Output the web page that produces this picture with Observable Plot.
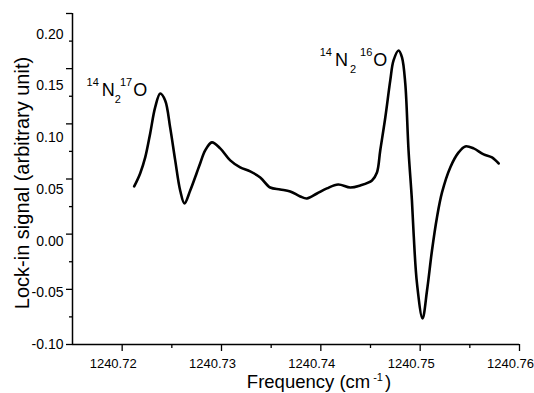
<!DOCTYPE html>
<html><head><meta charset="utf-8">
<script src="https://cdn.jsdelivr.net/npm/d3@7"></script>
<script src="https://cdn.jsdelivr.net/npm/@observablehq/plot@0.6"></script>
<style>body{margin:0;background:#fff} svg{display:block}</style>
</head><body><div id="chart"></div>
<script>
const freq = [1240.72121, 1240.72181, 1240.72232, 1240.72282, 1240.72332, 1240.72383, 1240.72433, 1240.72483, 1240.72534, 1240.72584,
  1240.72627, 1240.72685, 1240.72752, 1240.72785, 1240.72836, 1240.72903, 1240.72987, 1240.73088, 1240.73188, 1240.73289,
  1240.7339, 1240.7349, 1240.73591, 1240.73692, 1240.73793, 1240.7386, 1240.73961, 1240.74061, 1240.74175, 1240.74296,
  1240.74397, 1240.74515, 1240.74565, 1240.74598, 1240.74649, 1240.74699, 1240.74732, 1240.74783, 1240.74817, 1240.7485,
  1240.74883, 1240.74917, 1240.74934, 1240.74968, 1240.75024, 1240.75069, 1240.75119, 1240.75169, 1240.7522, 1240.75303,
  1240.75387, 1240.75454, 1240.75538, 1240.75639, 1240.75723, 1240.7579];
const signal = [0.0528, 0.0654, 0.0809, 0.1041, 0.1292, 0.1427, 0.136, 0.1099, 0.078, 0.0489,
  0.0364, 0.0489, 0.0663, 0.075, 0.0876, 0.0954, 0.0896, 0.078, 0.0712, 0.0673,
  0.0615, 0.0518, 0.0499, 0.048, 0.0431, 0.0412, 0.046, 0.0509, 0.0547, 0.0518,
  0.0538, 0.0586, 0.0663, 0.0876, 0.1195, 0.1553, 0.1747, 0.1843, 0.1776, 0.1524,
  0.0876, 0.0393, 0.0073, -0.041, -0.0749, -0.0478, -0.0091, 0.0228, 0.047, 0.0712,
  0.0857, 0.0915, 0.0896, 0.0838, 0.0809, 0.075];

const xMajorTicks = [1240.72, 1240.73, 1240.74, 1240.75, 1240.76];
const xMinorTicks = [1240.725, 1240.735, 1240.745, 1240.755];
const yLabelTicks = [-0.10, -0.05, 0.00, 0.05, 0.10, 0.15, 0.20];
const yMajorTicks = [-0.10, -0.0467, 0.0067, 0.06, 0.1133, 0.1667, 0.22];
const yMinorTicks = [-0.0733, -0.02, 0.0333, 0.0867, 0.14, 0.1933];

const labelMass = ["17", "16"];
const labelFreq = [1240.72252, 1240.74669];
const labelSignal = [0.1398, 0.1689];

const xTitle = "Frequency (cm-1)";
const yTitle = "Lock-in signal (arbitrary unit)";

const data = freq.map((f, i) => ({f, s: signal[i]}));
const labels = labelMass.map((m, i) => ({m, f: labelFreq[i], s: labelSignal[i]}));
const fmt = d => d.toFixed(2);

const plot = Plot.plot({
  width: 534, height: 393,
  marginLeft: 72, marginRight: 15, marginTop: 13, marginBottom: 49,
  style: {fontFamily: "'Liberation Sans', Arial, sans-serif", background: "#fff", color: "#000"},
  x: {domain: [1240.715, 1240.76]},
  y: {domain: [-0.10, 0.22]},
  marks: [
    Plot.axisX(xMajorTicks, {tickSize: 7, tickFormat: () => "", label: null, strokeWidth: 1.3}),
    Plot.axisX(xMinorTicks, {tickSize: 4, tickFormat: () => "", label: null, strokeWidth: 1.3}),
    Plot.axisX(xMajorTicks, {tickSize: 0, tickPadding: 14, dx: -9, tickFormat: fmt, label: null, fontSize: 13}),
    Plot.axisY(yMajorTicks, {tickSize: 6, tickFormat: () => "", label: null, strokeWidth: 1.3}),
    Plot.axisY(yMinorTicks, {tickSize: 3, tickFormat: () => "", label: null, strokeWidth: 1.3}),
    Plot.axisY(yLabelTicks, {tickSize: 0, tickPadding: 9, tickFormat: fmt, label: null, fontSize: 14}),
    Plot.ruleX([1240.715], {stroke: "#000", strokeWidth: 1.5}),
    Plot.ruleY([-0.10], {stroke: "#000", strokeWidth: 1.5}),
    Plot.line(data, {x: "f", y: "s", stroke: "#000", strokeWidth: 2.6, curve: "catmull-rom"}),
    Plot.text(labels, {x: "f", y: "s", text: "m", textAnchor: "end", lineAnchor: "bottom", fontSize: 18, ariaDescription: "isotope-labels"}),
    Plot.text([xTitle], {frameAnchor: "bottom", dx: 23, dy: 43, lineAnchor: "bottom", fontSize: 18.5, ariaDescription: "x-title"}),
    Plot.text([yTitle], {frameAnchor: "left", rotate: -90, textAnchor: "middle", lineAnchor: "bottom", dx: -44, dy: 4, fontSize: 20, ariaDescription: "y-title"})
  ]
});
document.getElementById("chart").appendChild(plot);

function rich(el, parts) {
  const sel = d3.select(el);
  sel.text(null);
  for (const p of parts) {
    const t = sel.append("tspan").text(p.t);
    if (p.size) t.attr("font-size", p.size);
    if (p.dx) t.attr("dx", p.dx);
    if (p.dy) t.attr("dy", p.dy);
  }
}
d3.select(plot).selectAll('g[aria-description="isotope-labels"] text').each(function(d, i) {
  const m = labelMass[i];
  const tight = i === 0;
  rich(this, [
    {t: "14", size: 11, dy: -10},
    {t: "N", size: 18, dx: 3, dy: 10},
    {t: "2", size: 11, dx: tight ? 0 : 2, dy: 7},
    {t: m, size: 11, dx: tight ? -1 : 4, dy: -17},
    {t: "O", size: 18, dx: 1, dy: 10}
  ]);
});
d3.select(plot).selectAll('g[aria-description="x-title"] text').each(function() {
  rich(this, [
    {t: "Frequency (cm"},
    {t: "-1", size: 11, dx: 3, dy: -7},
    {t: ")", dx: 2, dy: 7}
  ]);
});
</script>
</body></html>
